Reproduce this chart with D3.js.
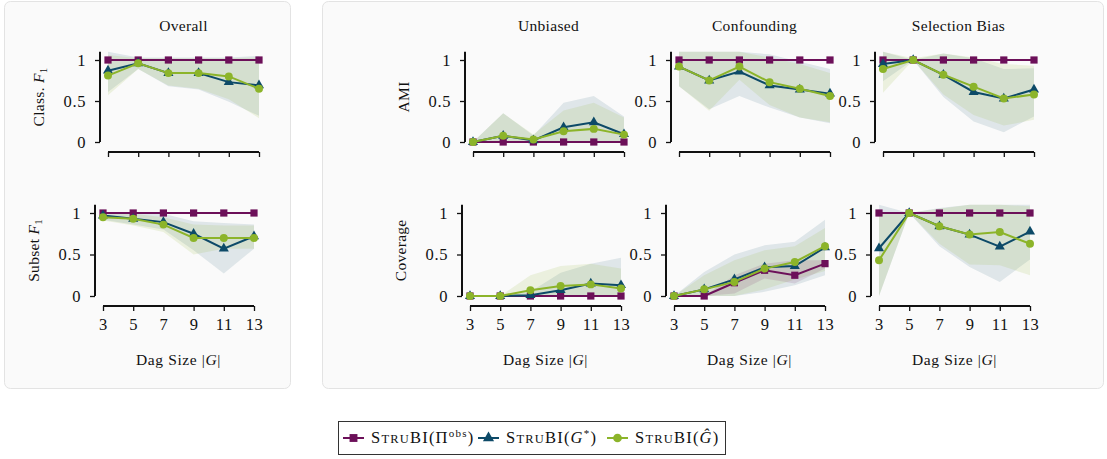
<!DOCTYPE html>
<html>
<head>
<meta charset="utf-8">
<script src="https://cdn.jsdelivr.net/npm/d3@7"></script>
<style>
  body { margin: 0; background: #fff; }
  svg text { font-family: "Liberation Serif", "DejaVu Serif", serif; fill: #111; }
</style>
</head>
<body>
<div id="chart"></div>
<script>
// dag sizes on the x axis
const dagSizes = [3, 5, 7, 9, 11, 13];
const yTicks = [0, 0.5, 1];

// Overall / Class. F1
const classObs = [1, 1, 1, 1, 1, 1];
const classStar = [0.87, 0.96, 0.84, 0.84, 0.73, 0.69];
const classHat = [0.81, 0.96, 0.84, 0.84, 0.80, 0.65];
const classStarLo = [0.61, 0.89, 0.68, 0.64, 0.49, 0.32];
const classStarHi = [1.10, 1.03, 1.03, 1.03, 1.03, 1.05];
const classHatLo = [0.57, 0.89, 0.69, 0.65, 0.52, 0.29];
const classHatHi = [1.06, 1.02, 1.02, 1.02, 1.02, 1.03];

// Overall / Subset F1
const subsetObs = [1, 1, 1, 1, 1, 1];
const subsetStar = [0.97, 0.93, 0.89, 0.75, 0.57, 0.72];
const subsetHat = [0.95, 0.93, 0.86, 0.70, 0.70, 0.70];
const subsetStarLo = [0.92, 0.86, 0.80, 0.55, 0.27, 0.57];
const subsetStarHi = [1.00, 1.00, 0.99, 0.90, 0.88, 0.86];
const subsetHatLo = [0.91, 0.85, 0.77, 0.50, 0.57, 0.57];
const subsetHatHi = [0.98, 0.99, 0.95, 0.86, 0.85, 0.85];

// Unbiased / AMI
const unbAmiObs = [0, 0, 0, 0, 0, 0];
const unbAmiStar = [0, 0.075, 0.02, 0.18, 0.24, 0.095];
const unbAmiHat = [0, 0.075, 0.03, 0.13, 0.16, 0.09];
const unbAmiStarLo = [0, 0, 0, 0, 0, 0];
const unbAmiStarHi = [0, 0.35, 0.08, 0.48, 0.56, 0.31];
const unbAmiHatLo = [0, 0, 0, 0, 0, 0];
const unbAmiHatHi = [0, 0.35, 0.09, 0.385, 0.48, 0.30];

// Unbiased / Coverage
const unbCovObs = [0, 0, 0, 0, 0, 0];
const unbCovStar = [0, 0, 0.01, 0.07, 0.15, 0.13];
const unbCovHat = [0, 0, 0.07, 0.12, 0.14, 0.09];
const unbCovStarLo = [0, 0, 0, 0, 0, 0];
const unbCovStarHi = [0, 0, 0.05, 0.28, 0.39, 0.46];
const unbCovHatLo = [0, 0, 0, 0, 0, 0];
const unbCovHatHi = [0, 0, 0.25, 0.36, 0.39, 0.33];

// Confounding / AMI
const confAmiObs = [1, 1, 1, 1, 1, 1];
const confAmiStar = [0.92, 0.75, 0.86, 0.69, 0.64, 0.59];
const confAmiHat = [0.92, 0.75, 0.92, 0.73, 0.65, 0.56];
const confAmiStarLo = [0.68, 0.40, 0.56, 0.42, 0.30, 0.23];
const confAmiStarHi = [1.10, 1.10, 1.10, 1.07, 0.98, 0.89];
const confAmiHatLo = [0.68, 0.38, 0.76, 0.45, 0.30, 0.24];
const confAmiHatHi = [1.10, 1.10, 1.10, 1.03, 0.95, 0.84];

// Confounding / Coverage
const confCovObs = [0, 0, 0.16, 0.31, 0.25, 0.39];
const confCovStar = [0, 0.08, 0.20, 0.345, 0.36, 0.585];
const confCovHat = [0, 0.08, 0.17, 0.33, 0.41, 0.60];
const confCovObsLo = [0, 0, 0.03, 0.21, 0.15, 0.33];
const confCovObsHi = [0, 0, 0.25, 0.39, 0.43, 0.43];
const confCovStarLo = [0, 0, 0, 0.05, 0.13, 0.25];
const confCovStarHi = [0, 0.29, 0.50, 0.61, 0.655, 0.92];
const confCovHatLo = [0, 0, 0, 0.08, 0.20, 0.30];
const confCovHatHi = [0, 0.25, 0.43, 0.55, 0.60, 0.82];

// Selection Bias / AMI
const selAmiObs = [1, 1, 1, 1, 1, 1];
const selAmiStar = [0.95, 1, 0.82, 0.61, 0.53, 0.64];
const selAmiHat = [0.89, 1, 0.82, 0.675, 0.53, 0.58];
const selAmiStarLo = [0.74, 1, 0.55, 0.25, 0.12, 0.31];
const selAmiStarHi = [1.10, 1.0, 1.08, 1.02, 0.89, 0.90];
const selAmiHatLo = [0.60, 1, 0.58, 0.33, 0.20, 0.27];
const selAmiHatHi = [1.10, 1.02, 1.08, 1.03, 0.95, 0.93];

// Selection Bias / Coverage
const selCovObs = [1, 1, 1, 1, 1, 1];
const selCovStar = [0.575, 1, 0.84, 0.74, 0.595, 0.775];
const selCovHat = [0.43, 1, 0.84, 0.74, 0.77, 0.63];
const selCovStarLo = [0, 1, 0.60, 0.35, 0.17, 0.44];
const selCovStarHi = [1.10, 1.0, 1.06, 1.10, 1.10, 1.10];
const selCovHatLo = [0, 1, 0.63, 0.38, 0.37, 0.25];
const selCovHatHi = [1.0, 1.0, 1.05, 1.10, 1.10, 1.08];

const colors = { obs: '#6c1059', star: '#0d4a68', hat: '#8cb42a' };
const serif = '"Liberation Serif", "DejaVu Serif", serif';

const width = 1107, height = 459;
const svg = d3.select('#chart').append('svg')
  .attr('width', width)
  .attr('height', height);

// grey rounded cards behind the two panel groups
[[4, 1, 286, 387], [322, 1, 781, 387]].forEach(([x, y, w, h]) => {
  svg.append('rect')
    .attr('x', x + 0.5).attr('y', y + 0.5)
    .attr('width', w).attr('height', h)
    .attr('rx', 6)
    .attr('fill', '#fafafa')
    .attr('stroke', '#e3e3e3');
});

// row geometry: pixel of y=0 and y=1
const rows = [
  { y0: 142, y1: 60 },
  { y0: 296, y1: 213 }
];

const panels = [
  { row: 0, x3: 108, title: 'Overall', ylab: 'class', obs: classObs, star: classStar, hat: classHat,
    starLo: classStarLo, starHi: classStarHi, hatLo: classHatLo, hatHi: classHatHi },
  { row: 1, x3: 103, ylab: 'subset', obs: subsetObs, star: subsetStar, hat: subsetHat,
    starLo: subsetStarLo, starHi: subsetStarHi, hatLo: subsetHatLo, hatHi: subsetHatHi },
  { row: 0, x3: 473, title: 'Unbiased', ylab: 'AMI', obs: unbAmiObs, star: unbAmiStar, hat: unbAmiHat,
    starLo: unbAmiStarLo, starHi: unbAmiStarHi, hatLo: unbAmiHatLo, hatHi: unbAmiHatHi },
  { row: 1, x3: 470, ylab: 'Coverage', obs: unbCovObs, star: unbCovStar, hat: unbCovHat,
    starLo: unbCovStarLo, starHi: unbCovStarHi, hatLo: unbCovHatLo, hatHi: unbCovHatHi },
  { row: 0, x3: 679, title: 'Confounding', obs: confAmiObs, star: confAmiStar, hat: confAmiHat,
    starLo: confAmiStarLo, starHi: confAmiStarHi, hatLo: confAmiHatLo, hatHi: confAmiHatHi },
  { row: 1, x3: 674, obs: confCovObs, star: confCovStar, hat: confCovHat,
    obsLo: confCovObsLo, obsHi: confCovObsHi,
    starLo: confCovStarLo, starHi: confCovStarHi, hatLo: confCovHatLo, hatHi: confCovHatHi },
  { row: 0, x3: 883, title: 'Selection Bias', obs: selAmiObs, star: selAmiStar, hat: selAmiHat,
    starLo: selAmiStarLo, starHi: selAmiStarHi, hatLo: selAmiHatLo, hatHi: selAmiHatHi },
  { row: 1, x3: 879, obs: selCovObs, star: selCovStar, hat: selCovHat,
    starLo: selCovStarLo, starHi: selCovStarHi, hatLo: selCovHatLo, hatHi: selCovHatHi }
];

const symbols = { obs: d3.symbolSquare, star: d3.symbolTriangle, hat: d3.symbolCircle };
const symbolSize = { obs: 52, star: 44, hat: 50 };

function drawPanel(p) {
  const r = rows[p.row];
  const unit = r.y0 - r.y1;
  const x = d3.scaleLinear().domain([3, 13]).range([p.x3, p.x3 + 151]);
  const y = d3.scaleLinear().domain([0, 1.1]).range([r.y0, r.y0 - 1.1 * unit]);
  const g = svg.append('g');

  // bands
  const bands = [['star', p.starLo, p.starHi, 0.11], ['hat', p.hatLo, p.hatHi, 0.13]];
  if (p.obsLo) bands.push(['obs', p.obsLo, p.obsHi, 0.12]);
  bands.forEach(([key, lo, hi, op]) => {
    const area = d3.area()
      .x((d, i) => x(dagSizes[i]))
      .y0((d, i) => y(lo[i]))
      .y1((d, i) => y(hi[i]));
    g.append('path')
      .datum(lo)
      .attr('d', area)
      .attr('fill', colors[key])
      .attr('fill-opacity', op);
  });

  // y axis
  const ya = g.append('g')
    .attr('transform', `translate(${p.x3 - 8},0)`)
    .call(d3.axisLeft(y).tickValues(yTicks).tickFormat(d3.format('~g')).tickSize(5).tickSizeOuter(0).tickPadding(9));
  // x axis
  const xa = g.append('g')
    .attr('transform', `translate(0,${r.y0 + 10})`)
    .call(d3.axisBottom(x).tickValues(dagSizes).tickSize(5).tickSizeOuter(0).tickPadding(7)
      .tickFormat(p.row === 1 ? d3.format('d') : () => ''));
  [ya, xa].forEach(a => {
    a.attr('font-family', serif).attr('font-size', 16.5);
    a.select('.domain').attr('stroke', '#111').attr('stroke-width', 2);
    a.selectAll('.tick line').attr('stroke', '#111').attr('stroke-width', 1.3);
    a.selectAll('.tick text').attr('fill', '#111').attr('letter-spacing', 0.6);
  });
  ya.select('.domain').attr('d', `M0,${y(0)}V${y(1.1)}`);
  xa.select('.domain').attr('d', `M${x(3)},0H${x(13)}`);

  // lines and markers
  ['obs', 'star', 'hat'].forEach(key => {
    const vals = p[key];
    const line = d3.line().x((d, i) => x(dagSizes[i])).y(d => y(d));
    g.append('path')
      .datum(vals)
      .attr('d', line)
      .attr('fill', 'none')
      .attr('stroke', colors[key])
      .attr('stroke-width', 2);
    g.selectAll(null)
      .data(vals)
      .enter().append('path')
      .attr('transform', (d, i) => `translate(${x(dagSizes[i])},${y(d)})`)
      .attr('d', d3.symbol().type(symbols[key]).size(symbolSize[key]))
      .attr('fill', colors[key]);
  });

  const cx = (x(3) + x(13)) / 2;
  if (p.title) {
    g.append('text')
      .attr('x', cx).attr('y', 31)
      .attr('text-anchor', 'middle')
      .attr('font-size', 15.5)
      .attr('letter-spacing', 0.3)
      .text(p.title);
  }
  if (p.row === 1) {
    const t = g.append('text')
      .attr('x', cx).attr('y', 365)
      .attr('text-anchor', 'middle')
      .attr('font-size', 15.5)
      .attr('letter-spacing', 0.6);
    t.append('tspan').text('Dag Size |');
    t.append('tspan').attr('font-style', 'italic').text('G');
    t.append('tspan').text('|');
  }

  // y label
  if (p.ylab) {
    const ly = (y(0) + y(1.1)) / 2;
    const t = g.append('text')
      .attr('transform', `translate(${p.x3 - 8 - 56},${ly}) rotate(-90)`)
      .attr('text-anchor', 'middle')
      .attr('font-size', 15.5)
      .attr('letter-spacing', 0.3);
    if (p.ylab === 'class' || p.ylab === 'subset') {
      t.append('tspan').text(p.ylab === 'class' ? 'Class. ' : 'Subset ');
      t.append('tspan').attr('font-style', 'italic').text('F');
      t.append('tspan').attr('font-size', 11).attr('dy', 3).text('1');
    } else {
      t.text(p.ylab);
    }
  }
}

panels.forEach(drawPanel);

// legend
const legend = svg.append('g');
legend.append('rect')
  .attr('x', 338.5).attr('y', 421.5)
  .attr('width', 387).attr('height', 33)
  .attr('fill', '#fff')
  .attr('stroke', '#333')
  .attr('stroke-width', 1);

const legendItems = [
  { key: 'obs', x: 343, arg: 'Π', sup: 'obs' },
  { key: 'star', x: 478, arg: 'G', sup: '*' },
  { key: 'hat', x: 607, arg: 'G\u0302', sup: null }
];
legendItems.forEach(it => {
  const ly = 438;
  legend.append('line')
    .attr('x1', it.x).attr('x2', it.x + 21)
    .attr('y1', ly).attr('y2', ly)
    .attr('stroke', colors[it.key]).attr('stroke-width', 2);
  legend.append('path')
    .attr('transform', `translate(${it.x + 10.5},${ly})`)
    .attr('d', d3.symbol().type(symbols[it.key]).size(symbolSize[it.key] + 10))
    .attr('fill', colors[it.key]);
  const t = legend.append('text')
    .attr('x', it.x + 28).attr('y', ly + 5)
    .attr('font-size', 16.5)
    .attr('letter-spacing', 1.2);
  t.append('tspan').text('S');
  t.append('tspan').attr('font-size', 12.5).text('TRU');
  t.append('tspan').text('BI(');
  t.append('tspan').attr('font-style', it.key === 'obs' ? 'normal' : 'italic').text(it.arg);
  if (it.sup) t.append('tspan').attr('font-size', 11).attr('dy', -6).text(it.sup);
  t.append('tspan').attr('dy', it.sup ? 6 : 0).text(')');
});
</script>
</body>
</html>
